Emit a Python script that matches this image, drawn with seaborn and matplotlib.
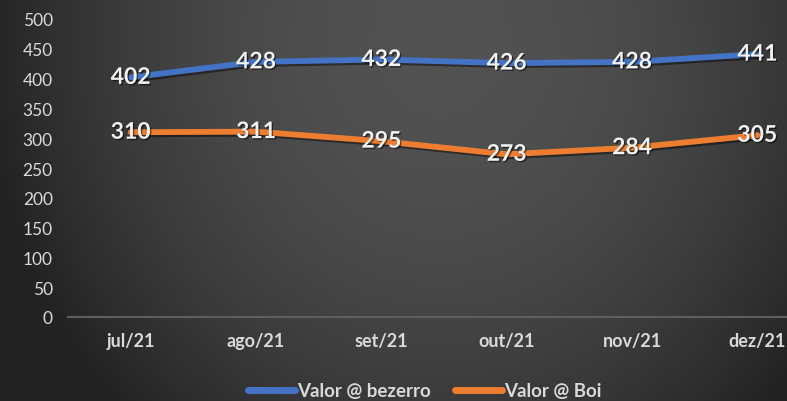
import numpy as np
import pandas as pd
import matplotlib
matplotlib.use("Agg")
import matplotlib.pyplot as plt
import matplotlib.patheffects as pe
from matplotlib.lines import Line2D
import seaborn as sns

meses = ["jul/21", "ago/21", "set/21", "out/21", "nov/21", "dez/21"]
valor_bezerro = [402, 428, 432, 426, 428, 441]
valor_boi = [310, 311, 295, 273, 284, 305]
series = ["Valor @ bezerro", "Valor @ Boi"]
cores = ["#4472C4", "#ED7D31"]
y_ticks = [0, 50, 100, 150, 200, 250, 300, 350, 400, 450, 500]

df = pd.DataFrame({
    "mes": meses * 2,
    "valor": valor_bezerro + valor_boi,
    "serie": [series[0]] * len(meses) + [series[1]] * len(meses),
})

sns.set_theme(style="dark")
plt.rcParams["font.family"] = ["Lato", "DejaVu Sans"]

W, H = 787, 402
fig = plt.figure(figsize=(W / 100, H / 100), dpi=100)

# dark radial background, lighter towards the upper middle
bg = fig.add_axes([0, 0, 1, 1], zorder=-10)
xx, yy = np.meshgrid(np.arange(W), np.arange(H))
r2 = ((xx - 440) / 460.0) ** 2 + ((yy - 40) / 520.0) ** 2
v = np.clip(82 - 48 * r2, 34, 84) / 255.0
bg.imshow(np.dstack([v, v, v]), aspect="auto", extent=[0, 1, 0, 1],
          interpolation="bilinear")
bg.set_axis_off()

# plot area: left at 68 px, zero line at 318 px, 500 at 20 px
left, right = 68, 820
bottom_px, top_px = 318, 20
ax = fig.add_axes([left / W, (H - bottom_px) / H, (right - left) / W,
                   (bottom_px - top_px) / H])
ax.set_facecolor("none")

sns.lineplot(data=df, x="mes", y="valor", hue="serie", palette=cores,
             hue_order=series, sort=False, linewidth=4.2, ax=ax, legend=False)

shadow = [pe.SimpleLineShadow(offset=(1.5, -1.5), shadow_color="black",
                              alpha=0.45), pe.Normal()]
for ln in ax.get_lines():
    ln.set_path_effects(shadow)
    ln.set_solid_capstyle("round")
    ln.set_solid_joinstyle("round")

ax.set_xlim(-0.5, len(meses) - 0.5)
ax.set_ylim(0, 500)
ax.set_yticks(y_ticks)
ax.set_yticklabels([str(t) for t in y_ticks], fontsize=12.5, color="#d9d9d9")
ax.set_xticks(range(len(meses)))
ax.set_xticklabels(meses, fontsize=13, fontweight="bold", color="#d9d9d9")
ax.tick_params(axis="y", length=0, pad=11)
ax.tick_params(axis="x", length=0, pad=11)
ax.set_xlabel("")
ax.set_ylabel("")
ax.grid(False)
for s in ["top", "right", "left"]:
    ax.spines[s].set_visible(False)
ax.spines["bottom"].set_color("#5e5e5e")
ax.spines["bottom"].set_linewidth(1.5)

# data labels centred on each point
txt_fx = [pe.SimplePatchShadow(offset=(1, -1), shadow_rgbFace="black",
                               alpha=0.5), pe.Normal()]
for vals in (valor_bezerro, valor_boi):
    for i, val in enumerate(vals):
        ax.text(i, val, str(val), ha="center", va="center", fontsize=16.5,
                fontweight="bold", color="#f2f2f2", zorder=5,
                path_effects=txt_fx)

handles = [Line2D([0], [0], color=c, lw=5, solid_capstyle="round")
           for c in cores]
fig.legend(handles, series, loc="center", bbox_to_anchor=(425 / W, 10 / H),
           ncol=2, frameon=False, handlelength=2.5, handletextpad=0.1,
           columnspacing=1.3, prop={"family": "Lato", "weight": "bold",
                                    "size": 13.5}, labelcolor="#d9d9d9")

fig.savefig("out.png", dpi=100)
